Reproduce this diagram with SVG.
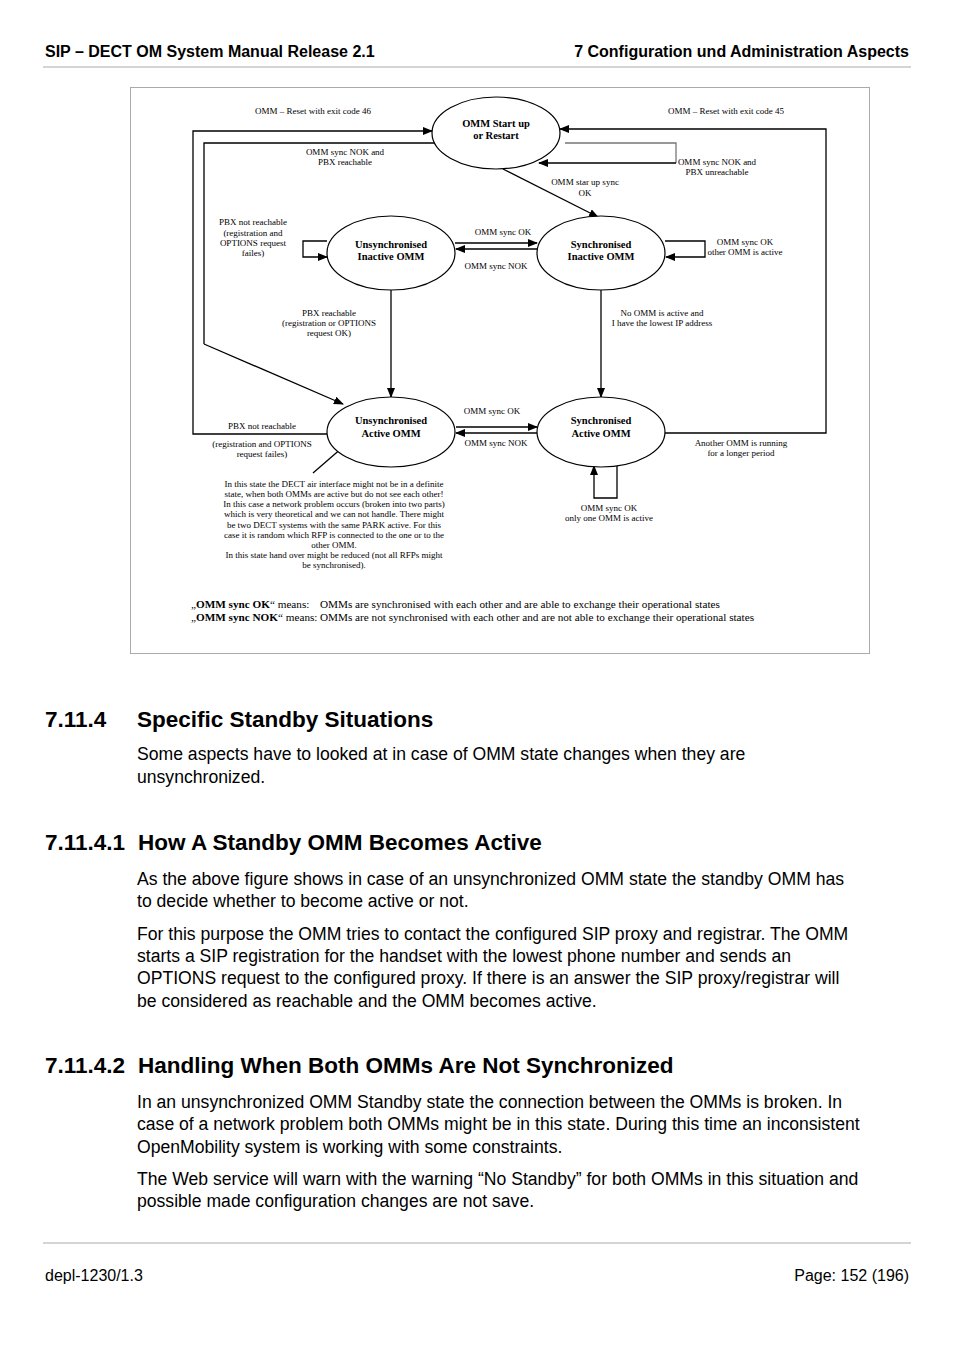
<svg xmlns="http://www.w3.org/2000/svg" width="954" height="1351" viewBox="0 0 954 1351">
<defs>
<marker id="ah" markerWidth="10" markerHeight="8" refX="9" refY="4" orient="auto" markerUnits="userSpaceOnUse">
<path d="M0,0 L10,4 L0,8 Z" fill="#000"/>
</marker>
<style>
.pg{font-family:"Liberation Sans",Arial,sans-serif;fill:#000}
.hd{font-size:16px;font-weight:bold}
.h2{font-size:22.5px;font-weight:bold}
.bd{font-size:17.6px}
.ft{font-size:16px}
.d{font-family:"Liberation Serif","Times New Roman",serif;font-size:9px;fill:#000;text-anchor:middle}
.n{font-family:"Liberation Serif","Times New Roman",serif;font-size:10.5px;font-weight:bold;fill:#000;text-anchor:middle}
.lg{font-family:"Liberation Serif","Times New Roman",serif;font-size:11.2px;fill:#000}
.st{fill:#fff;stroke:#000;stroke-width:1.2}
.c{fill:none;stroke:#000;stroke-width:1.3}
.cg{fill:none;stroke:#777;stroke-width:1.3}
.ca{fill:none;stroke:#000;stroke-width:1.3;marker-end:url(#ah)}
</style>
</defs>
<rect width="954" height="1351" fill="#fff"/>

<g id="header">
<text class="pg hd" x="45" y="57">SIP – DECT OM System Manual Release 2.1</text>
<text class="pg hd" x="909" y="57" text-anchor="end">7 Configuration und Administration Aspects</text>
<line x1="43" y1="67" x2="911" y2="67" stroke="#aaa" stroke-width="1"/>
</g>

<rect id="frame" x="130.5" y="87.5" width="739" height="566" fill="none" stroke="#aaa" stroke-width="1"/>

<g id="connectors">
<polyline class="ca" points="327,434 193,434 193,131 432,131"/>
<polyline class="c" points="436,143 204,143 204,344"/>
<line class="ca" x1="204" y1="344" x2="343" y2="404"/>
<polyline class="ca" points="663,433 826,433 826,129 560,129"/>
<polyline class="cg" points="565,143 676,143 676,163"/>
<polyline class="ca" points="676,163 539,163"/>
<line class="ca" x1="503" y1="169" x2="598" y2="217"/>
<line class="ca" x1="455" y1="243" x2="537" y2="243"/>
<line class="ca" x1="537" y1="249" x2="456" y2="249"/>
<polyline class="ca" points="327,241 303,241 303,257 327,257"/>
<polyline class="ca" points="665,241 705,241 705,257 666,257"/>
<line class="ca" x1="391" y1="290" x2="391" y2="397"/>
<line class="ca" x1="601" y1="290" x2="601" y2="397"/>
<line class="ca" x1="456" y1="427" x2="537" y2="427"/>
<line class="ca" x1="537" y1="433" x2="456" y2="433"/>
<polyline class="ca" points="617,466 617,498 594,498 594,466"/>
<line class="c" x1="343" y1="447" x2="313" y2="473" stroke-width="1"/>
</g>

<g id="start">
<ellipse class="st" cx="496" cy="133" rx="64" ry="36"/>
<text class="n" x="496" y="127">OMM Start up</text>
<text class="n" x="496" y="139">or Restart</text>
</g>
<g id="unsync-inactive">
<ellipse class="st" cx="391" cy="253" rx="64" ry="37"/>
<text class="n" x="391" y="248">Unsynchronised</text>
<text class="n" x="391" y="260">Inactive OMM</text>
</g>
<g id="sync-inactive">
<ellipse class="st" cx="601" cy="253" rx="64" ry="37"/>
<text class="n" x="601" y="248">Synchronised</text>
<text class="n" x="601" y="260">Inactive OMM</text>
</g>
<g id="unsync-active">
<ellipse class="st" cx="391" cy="432" rx="64" ry="35"/>
<text class="n" x="391" y="424">Unsynchronised</text>
<text class="n" x="391" y="437">Active OMM</text>
</g>
<g id="sync-active">
<ellipse class="st" cx="601" cy="432" rx="64" ry="35"/>
<text class="n" x="601" y="424">Synchronised</text>
<text class="n" x="601" y="437">Active OMM</text>
</g>

<g id="labels">
<text class="d" x="313" y="114">OMM – Reset with exit code 46</text>
<text class="d" x="345" y="155">OMM sync NOK and</text>
<text class="d" x="345" y="165">PBX reachable</text>
<text class="d" x="726" y="114">OMM – Reset with exit code 45</text>
<text class="d" x="717" y="165">OMM sync NOK and</text>
<text class="d" x="717" y="175">PBX unreachable</text>
<text class="d" x="585" y="185">OMM star up sync</text>
<text class="d" x="585" y="196">OK</text>
<text class="d" x="253" y="225">PBX not reachable</text>
<text class="d" x="253" y="236">(registration and</text>
<text class="d" x="253" y="246">OPTIONS request</text>
<text class="d" x="253" y="256">failes)</text>
<text class="d" x="503" y="235">OMM sync OK</text>
<text class="d" x="496" y="269">OMM sync NOK</text>
<text class="d" x="745" y="245">OMM sync OK</text>
<text class="d" x="745" y="255">other OMM is active</text>
<text class="d" x="329" y="316">PBX reachable</text>
<text class="d" x="329" y="326">(registration or OPTIONS</text>
<text class="d" x="329" y="336">request OK)</text>
<text class="d" x="662" y="316">No OMM is active and</text>
<text class="d" x="662" y="326">I have the lowest IP address</text>
<text class="d" x="492" y="414">OMM sync OK</text>
<text class="d" x="496" y="446">OMM sync NOK</text>
<text class="d" x="262" y="429">PBX not reachable</text>
<text class="d" x="262" y="447">(registration and  OPTIONS</text>
<text class="d" x="262" y="457">request failes)</text>
<text class="d" x="741" y="446">Another OMM is running</text>
<text class="d" x="741" y="456">for a longer period</text>
<text class="d" x="609" y="511">OMM sync OK</text>
<text class="d" x="609" y="521">only one OMM is active</text>
</g>

<g id="note">
<text class="d" x="334" y="487">In this state the DECT air interface might not be in a definite</text>
<text class="d" x="334" y="497">state, when both OMMs are active but do not see each other!</text>
<text class="d" x="334" y="507">In this case a network problem occurs (broken into two parts)</text>
<text class="d" x="334" y="517">which is very theoretical and we can not handle. There might</text>
<text class="d" x="334" y="528">be two DECT systems with the same PARK active. For this</text>
<text class="d" x="334" y="538">case it is random which RFP is connected to the one or  to the</text>
<text class="d" x="334" y="548">other OMM.</text>
<text class="d" x="334" y="558">In this state hand over might be reduced (not all RFPs might</text>
<text class="d" x="334" y="568">be synchronised).</text>
</g>

<g id="legend">
<text class="lg" x="191" y="608">„<tspan font-weight="bold">OMM sync OK</tspan>“ means:<tspan x="320">OMMs are synchronised with each other and are able to exchange their operational states</tspan></text>
<text class="lg" x="191" y="621">„<tspan font-weight="bold">OMM sync NOK</tspan>“ means:<tspan x="320">OMMs are not synchronised with each other and are not able to exchange their operational states</tspan></text>
</g>

<g id="body">
<text class="pg h2" x="45" y="727">7.11.4</text>
<text class="pg h2" x="137" y="727">Specific Standby Situations</text>
<text class="pg bd" x="137" y="760">Some aspects have to looked at in case of OMM state changes when they are</text>
<text class="pg bd" x="137" y="783">unsynchronized.</text>

<text class="pg h2" x="45" y="850">7.11.4.1</text>
<text class="pg h2" x="138" y="850">How A Standby OMM Becomes Active</text>
<text class="pg bd" x="137" y="885">As the above figure shows in case of an unsynchronized OMM state the standby OMM has</text>
<text class="pg bd" x="137" y="907">to decide whether to become active or not.</text>
<text class="pg bd" x="137" y="940">For this purpose the OMM tries to contact the configured SIP proxy and registrar. The OMM</text>
<text class="pg bd" x="137" y="962">starts a SIP registration for the handset with the lowest phone number and sends an</text>
<text class="pg bd" x="137" y="984">OPTIONS request to the configured proxy. If there is an answer the SIP proxy/registrar will</text>
<text class="pg bd" x="137" y="1007">be considered as reachable and the OMM becomes active.</text>

<text class="pg h2" x="45" y="1073">7.11.4.2</text>
<text class="pg h2" x="138" y="1073">Handling When Both OMMs Are Not Synchronized</text>
<text class="pg bd" x="137" y="1108">In an unsynchronized OMM Standby state the connection between the OMMs is broken. In</text>
<text class="pg bd" x="137" y="1130">case of a network problem both OMMs might be in this state. During this time an inconsistent</text>
<text class="pg bd" x="137" y="1153">OpenMobility system is working with some constraints.</text>
<text class="pg bd" x="137" y="1185">The Web service will warn with the warning “No Standby” for both OMMs in this situation and</text>
<text class="pg bd" x="137" y="1207">possible made configuration changes are not save.</text>
</g>

<g id="footer">
<line x1="43" y1="1243" x2="911" y2="1243" stroke="#aaa" stroke-width="1"/>
<text class="pg ft" x="45" y="1281">depl-1230/1.3</text>
<text class="pg ft" x="909" y="1281" text-anchor="end">Page: 152 (196)</text>
</g>
</svg>
